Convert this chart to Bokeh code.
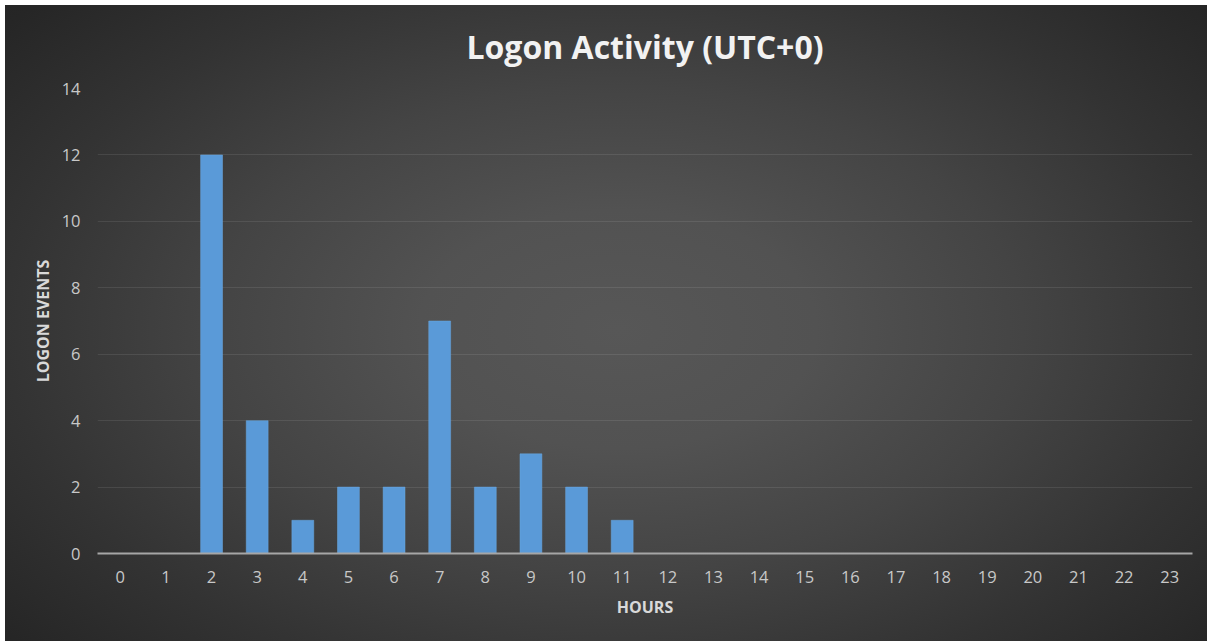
from bokeh.plotting import figure
from bokeh.models import FactorRange, Range1d, FixedTicker, ColumnDataSource
from bokeh.embed import file_html
from bokeh.resources import INLINE

title_text = "Logon Activity (UTC+0)"
hours = [str(h) for h in range(24)]
events = [0, 0, 12, 4, 1, 2, 2, 7, 2, 3, 2, 1, 0, 0, 0, 0, 0, 0, 0, 0, 0, 0, 0, 0]
y_ticks = [0, 2, 4, 6, 8, 10, 12, 14]

src = ColumnDataSource(dict(hour=hours, events=events))

p = figure(
    width=1202, height=636,
    x_range=FactorRange(*hours, range_padding=0),
    y_range=Range1d(0, 14),
    output_backend="svg", toolbar_location=None,
    min_border_left=92, min_border_right=15, min_border_top=83, min_border_bottom=88,
)
p.styles = {
    "margin-left": "5px",
    "margin-top": "5px",
    "background": "radial-gradient(ellipse 75% 85% at 51% 51%, #575757 0%, #525252 22%, #444444 45%, #333333 68%, #262626 88%, #222222 100%)",
}
p.background_fill_alpha = 0
p.border_fill_alpha = 0
p.outline_line_color = None

p.title.text = title_text
p.title.align = "center"
p.title.vertical_align = "top"
p.title.text_font = "Open Sans"
p.title.text_font_style = "bold"
p.title.text_font_size = "32px"
p.title.text_color = "#f2f2f2"
p.title.offset = 0
p.title.standoff = 37

p.vbar(x="hour", top="events", width=0.48, source=src,
       fill_color="#5a9ad8", line_color="#6aa8e0", line_width=0.5)

p.xgrid.grid_line_color = None
p.ygrid.grid_line_color = "#ffffff"
p.ygrid.grid_line_alpha = 0.09
p.ygrid.grid_line_width = 1

p.yaxis.ticker = FixedTicker(ticks=y_ticks)
p.yaxis.axis_line_color = None
p.yaxis.major_tick_line_color = None
p.yaxis.major_tick_out = 0
p.yaxis.major_tick_in = 0
p.yaxis.minor_tick_line_color = None
p.yaxis.major_label_text_font = "Open Sans"
p.yaxis.major_label_text_font_size = "16.5px"
p.yaxis.major_label_text_color = "#c8c8c8"
p.yaxis.major_label_standoff = 17
p.yaxis.axis_label = "LOGON EVENTS"
p.yaxis.axis_label_text_font = "Open Sans"
p.yaxis.axis_label_text_font_style = "bold"
p.yaxis.axis_label_text_font_size = "16px"
p.yaxis.axis_label_text_color = "#d9d9d9"
p.yaxis.axis_label_standoff = 5

p.xaxis.axis_line_color = "#a6a6a6"
p.xaxis.axis_line_width = 2
p.xaxis.major_tick_line_color = None
p.xaxis.major_tick_out = 0
p.xaxis.major_tick_in = 0
p.xaxis.minor_tick_line_color = None
p.xaxis.major_label_text_font = "Open Sans"
p.xaxis.major_label_text_font_size = "16.5px"
p.xaxis.major_label_text_color = "#c8c8c8"
p.xaxis.major_label_standoff = 17
p.xaxis.axis_label = "HOURS"
p.xaxis.axis_label_text_font = "Open Sans"
p.xaxis.axis_label_text_font_style = "bold"
p.xaxis.axis_label_text_font_size = "16px"
p.xaxis.axis_label_text_color = "#d9d9d9"
p.xaxis.axis_label_standoff = 10

open("out.html", "w").write(file_html(p, INLINE))
